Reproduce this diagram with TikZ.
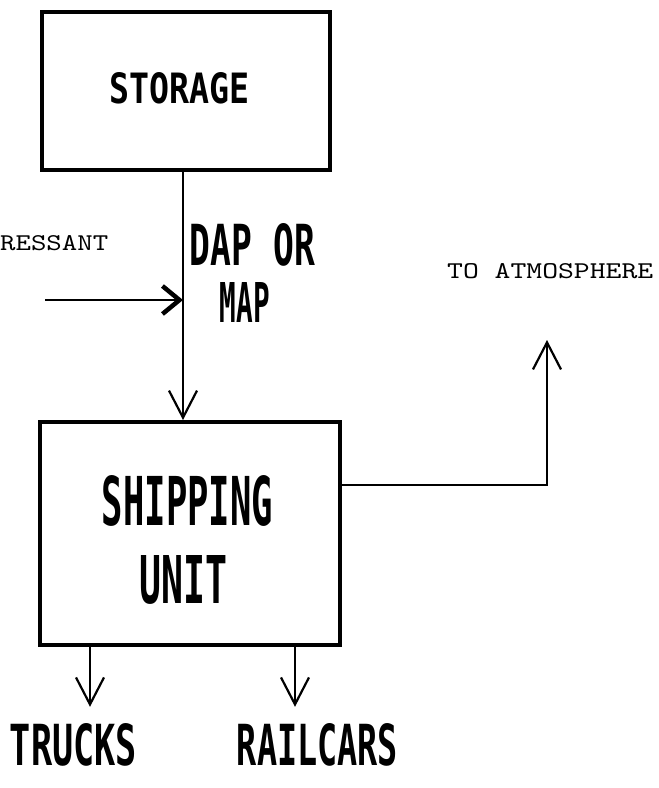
\documentclass[tikz,border=0pt]{standalone}
\usepackage{fontspec}
\usepackage{graphicx}
\usetikzlibrary{arrows.meta}
\newfontfamily\plotfont{DejaVu Sans Mono}
\newcommand{\plottext}[3]{\resizebox{#1pt}{#2pt}{\plotfont\bfseries #3}}
\newcommand{\twtext}[3]{\resizebox{#1pt}{#2pt}{\ttfamily #3}}
\tikzset{
  unitbox/.style={draw, line width=4pt, inner sep=0pt},
  plotlbl/.style={inner sep=0pt, anchor=base},
  twlbl/.style={inner sep=0pt, anchor=base west},
  flow/.style={line width=2.5pt},
  vhead/.style={-{Straight Barb[length=27pt,width=28pt,line width=2.2pt]}},
  bhead/.style={-{Straight Barb[length=17pt,width=28pt,line width=4.5pt]}}
}
\begin{document}
\begin{tikzpicture}[x=1pt,y=-1pt]
\useasboundingbox (0,0) rectangle (659,788);
% boxes
\node[unitbox, minimum width=288pt, minimum height=158pt] (storage) at (186,91) {};
\node[unitbox, minimum width=300pt, minimum height=223pt] (ship) at (190,533.5) {};
% labels
\node[plotlbl] (storagetxt) at (180,103) {\plottext{140}{31}{STORAGE}};
\node[plotlbl] (dap) at (252.5,265) {\plottext{125}{42}{DAP OR}};
\node[plotlbl] (map) at (245,322) {\plottext{50}{40}{MAP}};
\node[plotlbl] (shiptxt) at (187.5,525) {\plottext{171}{50}{SHIPPING}};
\node[plotlbl] (unittxt) at (184,603) {\plottext{88}{48}{UNIT}};
\node[plotlbl] (trucks) at (73.5,765) {\plottext{127}{42}{TRUCKS}};
\node[plotlbl] (railcars) at (317.5,765) {\plottext{161}{42}{RAILCARS}};
\node[twlbl] (dep) at (0,250) {\twtext{108}{15}{RESSANT}};
\node[twlbl] (atm) at (447,278) {\twtext{206}{15}{TO ATMOSPHERE}};
% coordinates
\coordinate (jn) at (183,300);
\coordinate (depstart) at (45,300);
\coordinate (bend) at (547,485);
\coordinate (atmtip) at (547,340);
% connectors
\draw[flow, vhead] (storage.south -| jn) -- (ship.north -| jn);
\draw[flow, bhead] (depstart) -- (jn);
\draw[flow, vhead] (ship.east |- bend) -- (bend) -- (atmtip);
\draw[flow, vhead, shorten >=16pt] (ship.south -| 90,0) -- (trucks.north -| 90,0);
\draw[flow, vhead, shorten >=16pt] (ship.south -| 295,0) -- (railcars.north -| 295,0);
\end{tikzpicture}
\end{document}
